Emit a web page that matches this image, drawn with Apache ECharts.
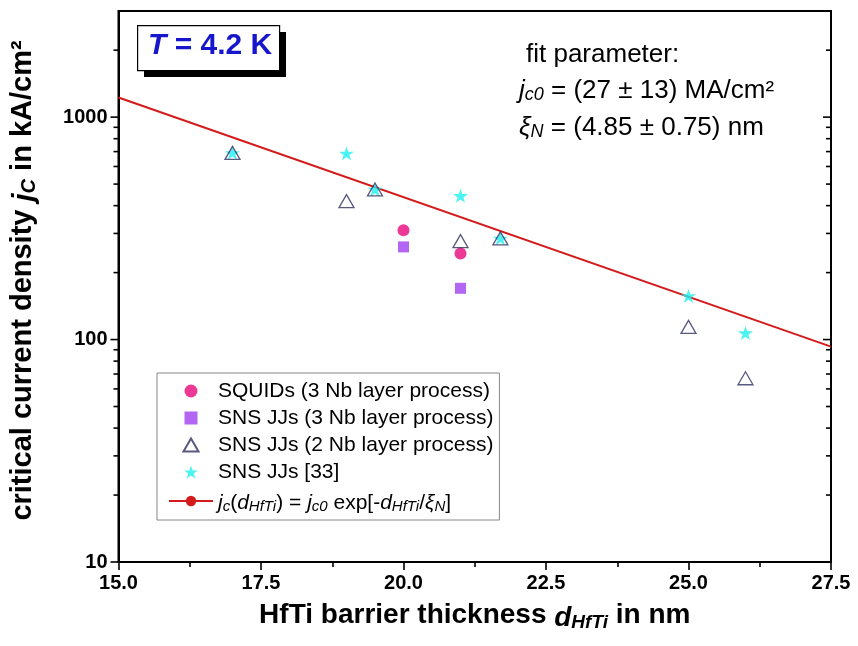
<!DOCTYPE html>
<html>
<head>
<meta charset="utf-8">
<script src="https://cdn.jsdelivr.net/npm/echarts@6/dist/echarts.min.js"></script>
<style>html,body{margin:0;padding:0;background:#fff}#c{width:858px;height:646px}</style>
</head>
<body>
<div id="c"></div>
<script>
// ---- data ----
const xMin = 15, xMax = 27.5, xInterval = 2.5;
const yMin = 10, yMax = 3000;
const yLabelValues = [10, 100, 1000];
const majorYTicks = [10, 100, 1000];
const minorYTicks = [20, 30, 40, 50, 60, 70, 80, 90, 200, 300, 400, 500, 600, 700, 800, 900, 2000];

const squidX = [20, 21];
const squidY = [310, 244];
const sns3X = [20, 21];
const sns3Y = [261, 170];
const sns2X = [17, 19, 19.5, 21, 21.7, 25, 26];
const sns2Y = [691, 419, 473, 277, 285, 114, 67];
const ref33X = [17, 19, 19.5, 21, 21.7, 25, 26];
const ref33Y = [691, 687, 473, 443, 285, 157, 107];
const fitX = [15, 27.5];
const fitY = [1225, 93];

const names = ['SQUIDs (3 Nb layer process)', 'SNS JJs (3 Nb layer process)', 'SNS JJs (2 Nb layer process)', 'SNS JJs [33]', 'fit'];

const zip = (a, b) => a.map((v, i) => [v, b[i]]);
const FONT = '"Liberation Sans", Arial, sans-serif';
const STAR = 'path://M50,0 L61.8,35.4 L100,35.4 L69.1,57.3 L80.9,93.3 L50,71.4 L19.1,93.3 L30.9,57.3 L0,35.4 L38.2,35.4 Z';
const TRI = 'path://M50,0 L100,86.6 L0,86.6 Z';
const SQ = 'path://M0,0 L100,0 L100,100 L0,100 Z';

function tickRender(len) {
  return function (params, api) {
    const v = api.value(1);
    const L = api.coord([xMin, v]);
    const R = api.coord([xMax, v]);
    const st = { stroke: '#000', lineWidth: 1.6 };
    return { type: 'group', children: [
      { type: 'line', shape: { x1: L[0] - len, y1: L[1], x2: L[0], y2: L[1] }, style: st },
      { type: 'line', shape: { x1: R[0] - len, y1: R[1], x2: R[0], y2: R[1] }, style: st }
    ]};
  };
}

const chart = echarts.init(document.getElementById('c'));
chart.setOption({
  animation: false,
  textStyle: { fontFamily: FONT },
  grid: { left: 118, right: 27, top: 11, bottom: 84, show: true, borderColor: '#000', borderWidth: 2, backgroundColor: 'transparent' },
  xAxis: {
    type: 'value', min: xMin, max: xMax, interval: xInterval,
    axisLine: { lineStyle: { color: '#000', width: 2 } },
    axisTick: { show: true, inside: false, length: 8, lineStyle: { color: '#000', width: 1.6 } },
    minorTick: { show: true, splitNumber: 2, length: 5, lineStyle: { color: '#000', width: 1.6 } },
    splitLine: { show: false },
    axisLabel: { color: '#000', fontWeight: 'bold', fontSize: 20, margin: 11, fontFamily: FONT, formatter: v => v.toFixed(1) },
    name: 'HfTi barrier thickness {di|d}{sub|HfTi} in nm',
    nameLocation: 'middle', nameGap: 37,
    nameTextStyle: { color: '#000', fontWeight: 'bold', fontSize: 28, fontFamily: FONT,
      rich: {
        di: { fontStyle: 'italic', fontWeight: 'bold', fontSize: 28, color: '#000', fontFamily: FONT, lineHeight: 33, verticalAlign: 'bottom' },
        sub: { fontStyle: 'italic', fontWeight: 'bold', fontSize: 19, color: '#000', fontFamily: FONT, lineHeight: 19, verticalAlign: 'bottom' }
      } }
  },
  yAxis: {
    type: 'log', min: yMin, max: yMax, logBase: 10,
    axisLine: { lineStyle: { color: '#000', width: 2 } },
    axisTick: { show: false },
    splitLine: { show: false },
    axisLabel: { color: '#000', fontWeight: 'bold', fontSize: 20, margin: 11, fontFamily: FONT,
      formatter: v => { const r = Math.round(v); return yLabelValues.indexOf(r) >= 0 ? String(r) : ''; } },
    name: 'critical current density {ji|j}{sub|C} in kA/cm²',
    nameLocation: 'middle', nameGap: 79, nameRotate: 90,
    nameTextStyle: { color: '#000', fontWeight: 'bold', fontSize: 29, fontFamily: FONT, padding: [0, 0, 0, 12],
      rich: {
        ji: { fontStyle: 'italic', fontWeight: 'bold', fontSize: 29, color: '#000', fontFamily: FONT, lineHeight: 34, verticalAlign: 'bottom' },
        sub: { fontStyle: 'italic', fontWeight: 'bold', fontSize: 20, color: '#000', fontFamily: FONT, lineHeight: 20, verticalAlign: 'bottom' }
      } }
  },
  legend: {
    data: names,
    orient: 'vertical', left: 157, top: 373,
    padding: [7, 6, 6, 11],
    itemWidth: 44, itemHeight: 13, itemGap: 5, itemTextGap: 14,
    borderColor: '#888', borderWidth: 1, backgroundColor: '#fff',
    textStyle: { fontSize: 21, color: '#000', fontFamily: FONT, lineHeight: 22,
      rich: {
        t: { fontSize: 21, color: '#000', fontFamily: FONT, lineHeight: 26, verticalAlign: 'bottom' },
        i: { fontSize: 21, fontStyle: 'italic', color: '#000', fontFamily: FONT, lineHeight: 26, verticalAlign: 'bottom' },
        s: { fontSize: 15, fontStyle: 'italic', color: '#000', fontFamily: FONT, lineHeight: 15, verticalAlign: 'bottom' }
      } },
    formatter: function (n) {
      if (n === 'fit') return '{i|j}{s|c}{t|(}{i|d}{s|HfTi}{t|) = }{i|j}{s|c0}{t| exp[-}{i|d}{s|HfTi}{t|/}{i|ξ}{s|N}{t|]}';
      return n;
    }
  },
  graphic: [
    { type: 'rect', left: 144, top: 32, shape: { width: 142, height: 45 }, style: { fill: '#000' }, z: 10 },
    { type: 'rect', left: 137, top: 25, shape: { width: 142, height: 45 }, style: { fill: '#fff', stroke: '#000', lineWidth: 1.2 }, z: 11 },
    { type: 'text', left: 148, top: 31, z: 12, style: {
        text: '{it|T}{b| = 4.2 K}',
        rich: {
          it: { fontSize: 30, fontWeight: 'bold', fontStyle: 'italic', fill: '#1616cc', fontFamily: FONT },
          b: { fontSize: 30, fontWeight: 'bold', fill: '#1616cc', fontFamily: FONT }
        } } },
    { type: 'text', left: 526, top: 42, z: 12, style: { text: 'fit parameter:', font: '26px ' + FONT, fill: '#000' } },
    { type: 'text', left: 519, top: 78, z: 12, style: {
        text: '{i|j}{s|c0}{t| = (27 ± 13) MA/cm²}',
        rich: {
          t: { fontSize: 26, fill: '#000', fontFamily: FONT, lineHeight: 31, verticalAlign: 'bottom' },
          i: { fontSize: 26, fontStyle: 'italic', fill: '#000', fontFamily: FONT, lineHeight: 31, verticalAlign: 'bottom' },
          s: { fontSize: 18, fontStyle: 'italic', fill: '#000', fontFamily: FONT, lineHeight: 18, verticalAlign: 'bottom' }
        } } },
    { type: 'text', left: 519, top: 115, z: 12, style: {
        text: '{i|ξ}{s|N}{t| = (4.85 ± 0.75) nm}',
        rich: {
          t: { fontSize: 26, fill: '#000', fontFamily: FONT, lineHeight: 31, verticalAlign: 'bottom' },
          i: { fontSize: 26, fontStyle: 'italic', fill: '#000', fontFamily: FONT, lineHeight: 31, verticalAlign: 'bottom' },
          s: { fontSize: 18, fontStyle: 'italic', fill: '#000', fontFamily: FONT, lineHeight: 18, verticalAlign: 'bottom' }
        } } }
  ],
  series: [
    { name: 'fit', type: 'line', data: zip(fitX, fitY), symbol: 'none', showSymbol: false,
      lineStyle: { color: '#d41a1a', width: 2 }, itemStyle: { color: '#d41a1a' }, z: 2 },
    { name: names[3], type: 'scatter', data: zip(ref33X, ref33Y), symbol: STAR, symbolSize: 15, symbolKeepAspect: true,
      itemStyle: { color: '#1ef0f0' }, z: 3 },
    { name: names[0], type: 'scatter', data: zip(squidX, squidY), symbol: 'circle', symbolSize: 12,
      itemStyle: { color: '#e8087c' }, z: 4 },
    { name: names[1], type: 'scatter', data: zip(sns3X, sns3Y), symbol: SQ, symbolSize: 11, symbolKeepAspect: true,
      itemStyle: { color: '#a040f0' }, z: 4 },
    { name: names[2], type: 'scatter', data: zip(sns2X, sns2Y), symbol: TRI, symbolSize: 15, symbolKeepAspect: true,
      itemStyle: { color: 'rgba(255,255,255,0)', borderColor: '#2e2e60', borderWidth: 1.3 }, z: 5 },
    { type: 'custom', name: 'majorTicks', data: majorYTicks.map(v => [xMin, v]), renderItem: tickRender(8), silent: true, clip: false, z: 20 },
    { type: 'custom', name: 'minorTicks', data: minorYTicks.map(v => [xMin, v]), renderItem: tickRender(5), silent: true, clip: false, z: 20 }
  ]
});
</script>
</body>
</html>
